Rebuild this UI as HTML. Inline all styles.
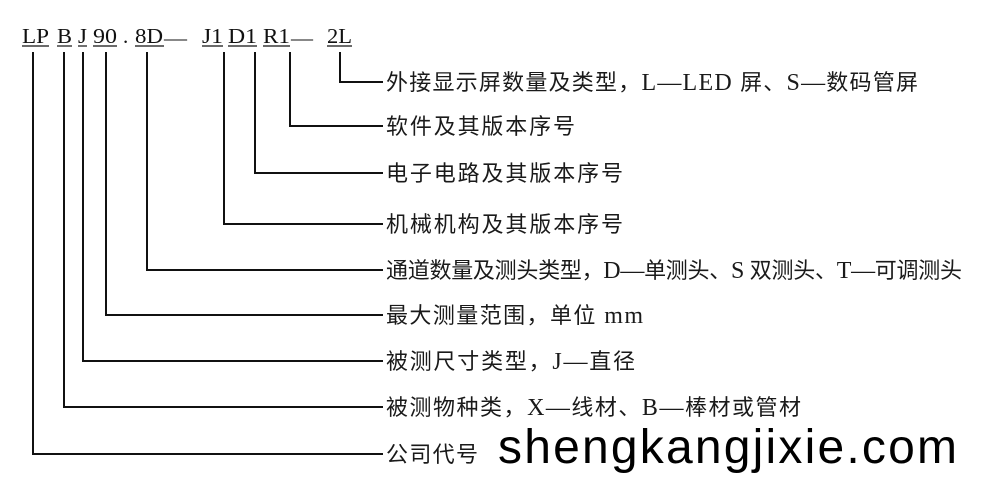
<!DOCTYPE html>
<html>
<head>
<meta charset="utf-8">
<style>
  html, body { margin:0; padding:0; background:#fff; }
  body { width:993px; height:493px; overflow:hidden; }
  svg { display:block; }
  .code { font-family:"Liberation Serif","Noto Serif CJK SC",serif; font-size:21px; fill:#111; }
  .lbl { font-family:"Liberation Serif","Noto Sans CJK SC",sans-serif; font-size:22px; fill:#1a1a1a; }
  .lt { font-size:24px; }
  .wm { font-family:"Liberation Sans","DejaVu Sans",sans-serif; font-size:48px; fill:#000; }
</style>
</head>
<body>
<svg width="993" height="493" viewBox="0 0 993 493" xmlns="http://www.w3.org/2000/svg">
  <!-- top code -->
  <text class="code" x="22" y="43" textLength="27" lengthAdjust="spacingAndGlyphs">LP</text>
  <text class="code" x="57" y="43" textLength="15" lengthAdjust="spacingAndGlyphs">B</text>
  <text class="code" x="78" y="43" textLength="9" lengthAdjust="spacingAndGlyphs">J</text>
  <text class="code" x="93" y="43" textLength="24" lengthAdjust="spacingAndGlyphs">90</text>
  <text class="code" x="123" y="43">.</text>
  <text class="code" x="135" y="43" textLength="28" lengthAdjust="spacingAndGlyphs">8D</text>
  <text class="code" x="164" y="45" textLength="23" lengthAdjust="spacingAndGlyphs">—</text>
  <text class="code" x="202" y="43" textLength="21" lengthAdjust="spacingAndGlyphs">J1</text>
  <text class="code" x="228" y="43" textLength="29" lengthAdjust="spacingAndGlyphs">D1</text>
  <text class="code" x="263" y="43" textLength="27" lengthAdjust="spacingAndGlyphs">R1</text>
  <text class="code" x="291" y="45" textLength="22" lengthAdjust="spacingAndGlyphs">—</text>
  <text class="code" x="327" y="43" textLength="25" lengthAdjust="spacingAndGlyphs">2L</text>

  <!-- underlines -->
  <g stroke="#111" stroke-width="1.2">
    <line x1="22" y1="46" x2="49" y2="46"/>
    <line x1="57" y1="46" x2="72" y2="46"/>
    <line x1="78" y1="46" x2="87" y2="46"/>
    <line x1="93" y1="46" x2="117" y2="46"/>
    <line x1="135" y1="46" x2="164" y2="46"/>
    <line x1="202" y1="46" x2="223" y2="46"/>
    <line x1="228" y1="46" x2="257" y2="46"/>
    <line x1="263" y1="46" x2="290" y2="46"/>
    <line x1="327" y1="46" x2="352" y2="46"/>
  </g>

  <!-- connectors -->
  <g stroke="#111" stroke-width="2" fill="none" stroke-linejoin="miter" stroke-linecap="butt">
    <path d="M340 52 V82 H383"/>
    <path d="M290 52 V126 H383"/>
    <path d="M255 52 V173 H383"/>
    <path d="M224 52 V224 H383"/>
    <path d="M147 52 V270 H383"/>
    <path d="M106 52 V315 H383"/>
    <path d="M83 52 V361 H383"/>
    <path d="M64 52 V407 H383"/>
    <path d="M33 52 V454 H383"/>
  </g>

  <!-- labels -->
  <text class="lbl" x="386" y="90" textLength="532" lengthAdjust="spacing">外接显示屏数量及类型，<tspan class="lt">L—LED </tspan>屏、<tspan class="lt">S—</tspan>数码管屏</text>
  <text class="lbl" x="386" y="134" textLength="189" lengthAdjust="spacing">软件及其版本序号</text>
  <text class="lbl" x="386" y="181" textLength="237" lengthAdjust="spacing">电子电路及其版本序号</text>
  <text class="lbl" x="386" y="232" textLength="237" lengthAdjust="spacing">机械机构及其版本序号</text>
  <text class="lbl" x="386" y="278" textLength="576" lengthAdjust="spacing">通道数量及测头类型，<tspan class="lt">D—</tspan>单测头、<tspan class="lt">S </tspan>双测头、<tspan class="lt">T—</tspan>可调测头</text>
  <text class="lbl" x="386" y="323" textLength="257" lengthAdjust="spacing">最大测量范围，单位<tspan class="lt"> mm</tspan></text>
  <text class="lbl" x="386" y="369" textLength="249" lengthAdjust="spacing">被测尺寸类型，<tspan class="lt">J—</tspan>直径</text>
  <text class="lbl" x="386" y="415" textLength="415" lengthAdjust="spacing">被测物种类，<tspan class="lt">X—</tspan>线材、<tspan class="lt">B—</tspan>棒材或管材</text>
  <text class="lbl" x="386" y="462" textLength="92" lengthAdjust="spacing">公司代号</text>

  <!-- watermark -->
  <text class="wm" x="498" y="463" textLength="459" lengthAdjust="spacing">shengkangjixie.com</text>
</svg>
</body>
</html>
